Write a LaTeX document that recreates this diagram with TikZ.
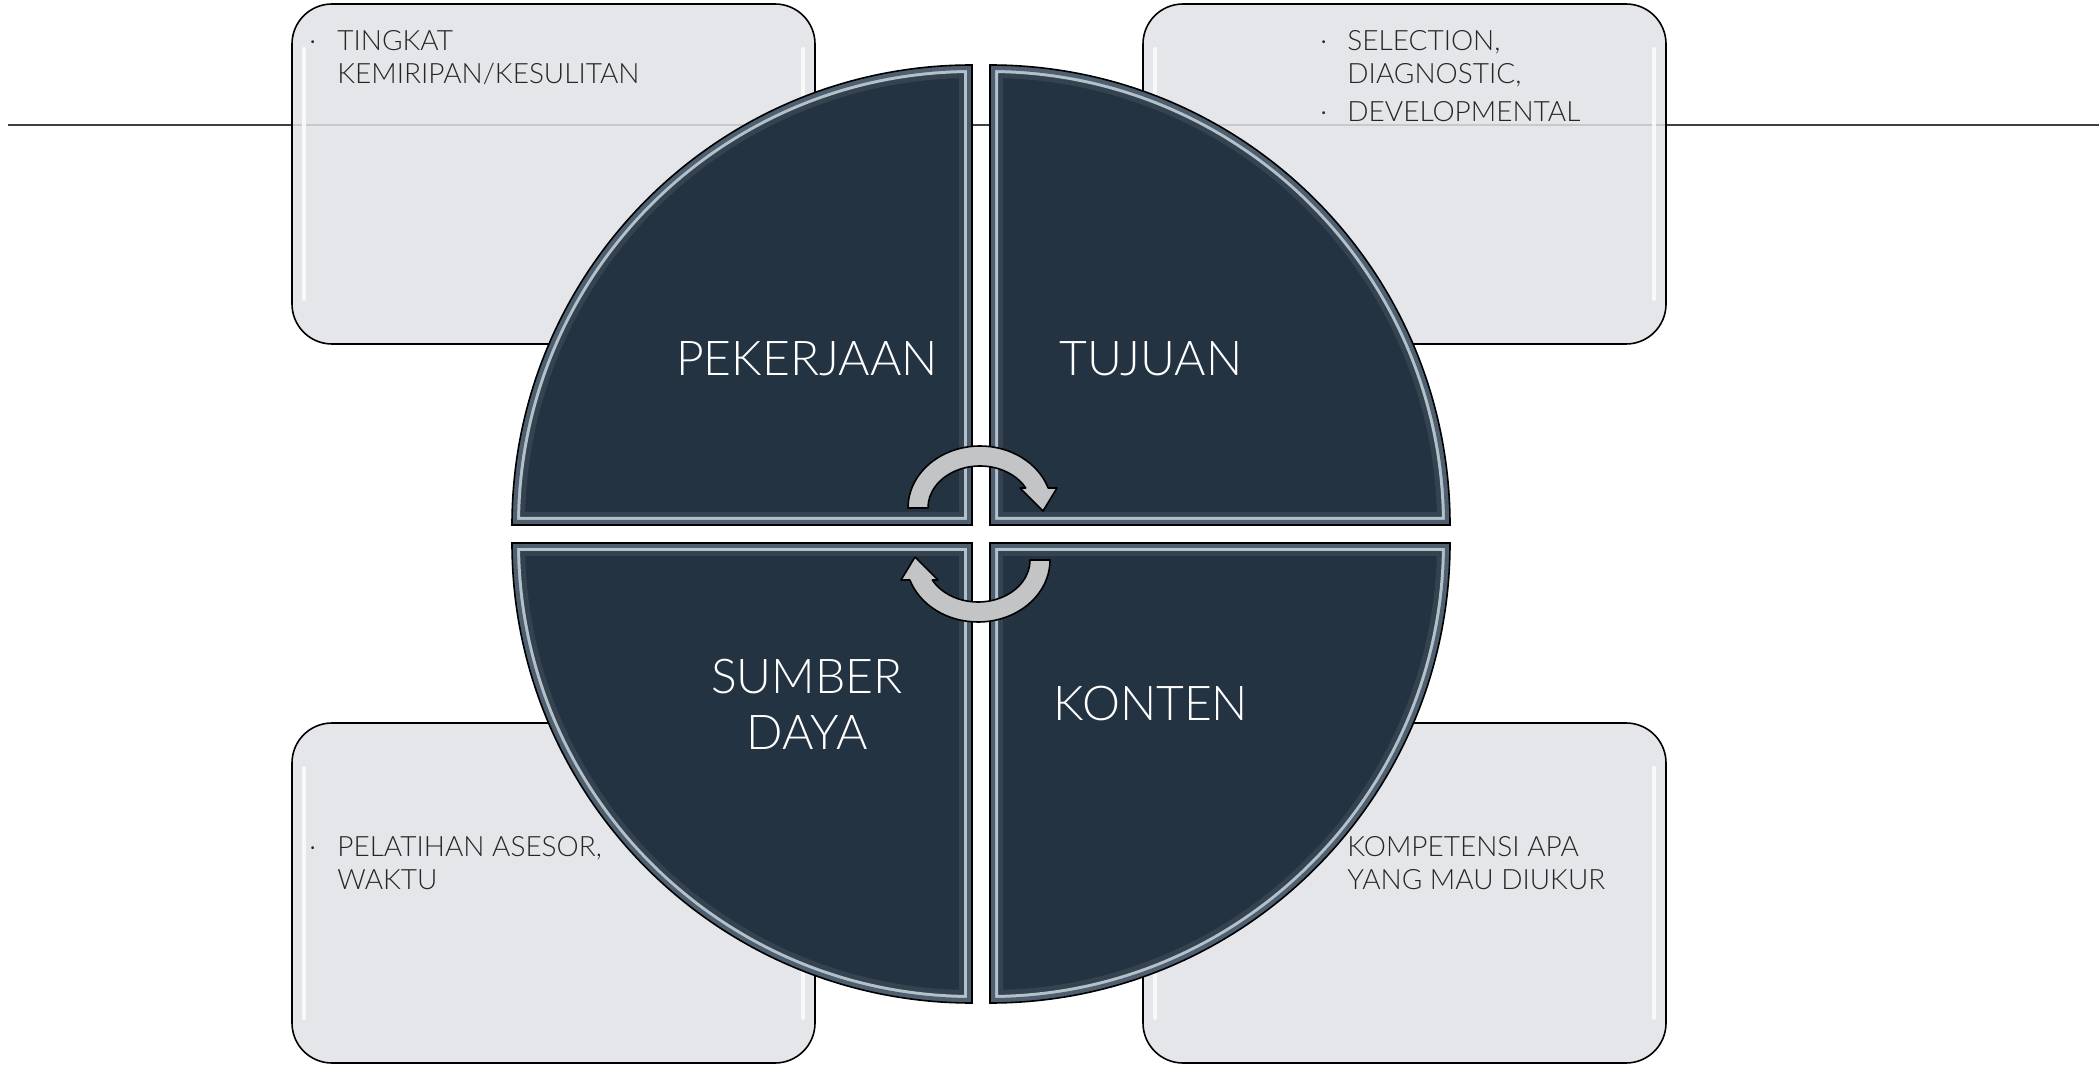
\documentclass[tikz,border=0pt]{standalone}
\usepackage{fontspec}
\setmainfont{Lato}[UprightFont={* Light}]
\usepackage{tikz}
\definecolor{slate}{HTML}{243342}
\definecolor{bevelmid}{HTML}{4E5F70}
\definecolor{bevellight}{HTML}{B4C1CB}
\definecolor{beveldark}{HTML}{34434F}
\definecolor{cardgray}{HTML}{E1E2E6}
\definecolor{rulegray}{HTML}{404040}
\definecolor{arrowgray}{HTML}{C3C4C6}
\newcommand{\stack}[1]{\begin{tabular}[t]{@{}l@{}}#1\end{tabular}}
\newcommand{\quadpath}{(\cx,\cy) -- ++(\a:460) arc[start angle=\a, end angle=\a-90, radius=460] -- cycle}

\begin{document}
\begin{tikzpicture}[x=0.5pt, y=0.5pt,
    card/.style={fill=cardgray, fill opacity=0.85, draw=black, line width=0.8pt, rounded corners=20pt},
    gloss/.style={white, line width=2pt, line cap=round, opacity=0.8},
    cardtext/.style={inner sep=0pt, anchor=base west, text=black!85, font=\fontsize{14}{16.5}\selectfont},
    quadlabel/.style={inner sep=0pt, text=white, align=center, font=\fontsize{24}{28}\selectfont},
    cyclearrow/.style={fill=arrowgray, draw=black, line width=0.8pt, line join=round}]
    \useasboundingbox (0,0) rectangle (2099,1067);

    % Horizontal rule
    \draw[rulegray, line width=1pt] (8,942) -- (2099,942);

    % Text cards
    \foreach \n/\x/\y in {tl/292/723, tr/1143/723, bl/292/4, br/1143/4} {
        \draw[card] (\x,\y) rectangle ++(523,340);
        \draw[gloss] (\x+12,\y+45) -- (\x+12,\y+295);
        \draw[gloss] (\x+511,\y+45) -- (\x+511,\y+295);
    }

    % Card texts
    \node[cardtext] (dotjob) at (309,1016) {·};
    \node[cardtext] (jobtext) at (337,1016) {\stack{TINGKAT\\KEMIRIPAN/KESULITAN}};
    \node[cardtext] (dotaim) at (1320,1016) {·};
    \node[cardtext] (aimtext) at (1347,1016) {\stack{SELECTION,\\DIAGNOSTIC,}};
    \node[cardtext] (dotdev) at (1320,945) {·};
    \node[cardtext] (devtext) at (1347,945) {DEVELOPMENTAL};
    \node[cardtext] (dotres) at (309,211) {·};
    \node[cardtext] (restext) at (337,211) {\stack{PELATIHAN ASESOR,\\WAKTU}};
    \node[cardtext] (context) at (1347,211) {\stack{KOMPETENSI APA\\YANG MAU DIUKUR}};

    % Pie quadrants with bevel
    \foreach \cx/\cy/\a in {972/542/180, 990/542/90, 990/524/0, 972/524/-90} {
        \begin{scope}
            \clip \quadpath;
            \fill[slate] \quadpath;
            \draw[beveldark, line width=13pt] \quadpath;
            \draw[bevellight, line width=8pt] \quadpath;
            \draw[bevelmid, line width=5pt] \quadpath;
        \end{scope}
        \draw[black, line width=0.8pt] \quadpath;
    }

    % Quadrant labels
    \node[quadlabel] (pekerjaan) at (807,708) {PEKERJAAN};
    \node[quadlabel] (tujuan) at (1151,708) {TUJUAN};
    \node[quadlabel] (sumberdaya) at (807,363) {SUMBER\\DAYA};
    \node[quadlabel] (konten) at (1151,363) {KONTEN};

    % Cycle arrows
    \foreach \cx/\cy/\rot in {980/559/0, 978/507/180}
        \filldraw[cyclearrow, shift={(\cx,\cy)}, rotate=\rot]
            (-52,0) -- (-72,0) arc[start angle=180, end angle=18.8, x radius=72, y radius=62]
            -- (77,20) -- (63,-3) -- (40,20) -- (45.7,20)
            arc[start angle=28.4, end angle=180, x radius=52, y radius=42] -- cycle;
\end{tikzpicture}
\end{document}
